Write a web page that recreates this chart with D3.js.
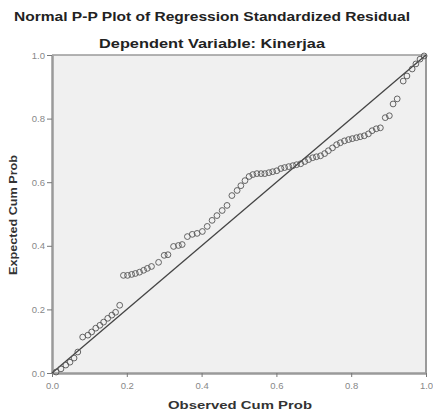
<!DOCTYPE html>
<html>
<head>
<meta charset="utf-8">
<script src="https://cdn.jsdelivr.net/npm/d3@7"></script>
<style>
  html, body { margin: 0; padding: 0; background: #fff; }
  svg { display: block; }
</style>
</head>
<body>
<svg id="chart" width="433" height="410"></svg>
<script>
// ---- data ----
const observedCumProb = [
  0.011, 0.024, 0.037, 0.048, 0.059, 0.069,
  0.082, 0.096, 0.106, 0.117, 0.128, 0.138, 0.149, 0.160, 0.170, 0.181,
  0.191, 0.202, 0.213, 0.223, 0.234, 0.245, 0.255, 0.266, 0.285,
  0.300, 0.310, 0.325, 0.338, 0.348, 0.362, 0.375, 0.388, 0.402,
  0.415, 0.428, 0.441, 0.455, 0.468, 0.481, 0.495, 0.505, 0.516, 0.527,
  0.537, 0.548, 0.559, 0.569, 0.580, 0.590, 0.601, 0.612, 0.622, 0.633,
  0.644, 0.654, 0.665, 0.676, 0.686, 0.697, 0.707, 0.718, 0.729, 0.739,
  0.750, 0.761, 0.771, 0.782, 0.793, 0.803, 0.814, 0.824, 0.835, 0.846,
  0.856, 0.867, 0.878, 0.891, 0.902, 0.912, 0.923, 0.939, 0.949, 0.963,
  0.973, 0.984, 0.995
];
const expectedCumProb = [
  0.003, 0.013, 0.025, 0.034, 0.047, 0.066,
  0.113, 0.119, 0.129, 0.141, 0.150, 0.160, 0.172, 0.182, 0.191, 0.213,
  0.307, 0.307, 0.310, 0.313, 0.317, 0.323, 0.329, 0.335, 0.348,
  0.370, 0.372, 0.398, 0.401, 0.404, 0.429, 0.436, 0.439, 0.445,
  0.461, 0.480, 0.495, 0.511, 0.527, 0.558, 0.574, 0.589, 0.605, 0.618,
  0.624, 0.627, 0.627, 0.627, 0.630, 0.633, 0.636, 0.643, 0.646, 0.649,
  0.652, 0.655, 0.658, 0.665, 0.671, 0.677, 0.680, 0.683, 0.690, 0.699,
  0.708, 0.718, 0.724, 0.730, 0.734, 0.737, 0.740, 0.743, 0.746, 0.752,
  0.762, 0.768, 0.771, 0.803, 0.809, 0.846, 0.862, 0.918, 0.934, 0.956,
  0.972, 0.987, 0.997
];
const tickValues = [0.0, 0.2, 0.4, 0.6, 0.8, 1.0];
const titleText = "Normal P-P Plot of Regression Standardized Residual";
const subtitleText = "Dependent Variable: Kinerjaa";
const xLabel = "Observed Cum Prob";
const yLabel = "Expected Cum Prob";

// ---- layout ----
const plot = { left: 52, right: 426, top: 55, bottom: 373 };
const svg = d3.select("#chart");
const FONT = "Liberation Sans, Arial, sans-serif";

const x = d3.scaleLinear().domain([0, 1]).range([plot.left, plot.right]);
const y = d3.scaleLinear().domain([0, 1]).range([plot.bottom, plot.top]);

// plot background
svg.append("rect")
  .attr("x", plot.left).attr("y", plot.top)
  .attr("width", plot.right - plot.left).attr("height", plot.bottom - plot.top)
  .attr("fill", "#f0f0f0");

// frame top & right
svg.append("line").attr("x1", plot.left).attr("x2", plot.right)
  .attr("y1", plot.top).attr("y2", plot.top)
  .attr("stroke", "#9a9a9a").attr("stroke-width", 1.5);
svg.append("line").attr("x1", plot.right).attr("x2", plot.right)
  .attr("y1", plot.top).attr("y2", plot.bottom)
  .attr("stroke", "#9a9a9a").attr("stroke-width", 2);

// axes
const fmt = d3.format(".1f");
const xAxis = svg.append("g")
  .attr("transform", `translate(0,${plot.bottom})`)
  .call(d3.axisBottom(x).tickValues(tickValues).tickFormat(fmt).tickSize(4).tickSizeOuter(0));
const yAxis = svg.append("g")
  .attr("transform", `translate(${plot.left},0)`)
  .call(d3.axisLeft(y).tickValues(tickValues).tickFormat(fmt).tickSize(5).tickSizeOuter(0));

[xAxis, yAxis].forEach(g => {
  g.select(".domain").attr("stroke", "#9a9a9a").attr("stroke-width", 2.5);
  g.selectAll(".tick line").attr("stroke", "#777").attr("stroke-width", 1);
  g.selectAll(".tick text")
    .attr("fill", "#888")
    .attr("font-family", FONT)
    .attr("font-size", 9.5);
});
xAxis.selectAll(".tick text").attr("dy", "0.9em").attr("y", 7);
yAxis.selectAll(".tick text").attr("x", -7);

// diagonal reference line
svg.append("line")
  .attr("x1", x(0)).attr("y1", y(0))
  .attr("x2", x(1)).attr("y2", y(1))
  .attr("stroke", "#444").attr("stroke-width", 1.3);

// points
const pts = observedCumProb.map((v, i) => ({ o: v, e: expectedCumProb[i] }));
svg.append("g").selectAll("circle")
  .data(pts).enter().append("circle")
  .attr("cx", d => x(d.o)).attr("cy", d => y(d.e))
  .attr("r", 2.9)
  .attr("fill", "none")
  .attr("stroke", "#555")
  .attr("stroke-width", 0.9);

// titles
function label(txt, xPos, yPos, size, len, color) {
  return svg.append("text")
    .attr("x", xPos).attr("y", yPos)
    .attr("text-anchor", "middle")
    .attr("font-family", FONT)
    .attr("font-weight", "bold").attr("font-size", size)
    .attr("fill", color)
    .attr("textLength", len).attr("lengthAdjust", "spacingAndGlyphs")
    .text(txt);
}
label(titleText, 212, 21, 12.5, 396, "#222");
label(subtitleText, 212, 48, 13, 226, "#222");
label(xLabel, 240, 409, 11.5, 144, "#333");

svg.append("text")
  .attr("transform", `translate(17,215) rotate(-90)`)
  .attr("text-anchor", "middle")
  .attr("font-family", FONT)
  .attr("font-weight", "bold").attr("font-size", 11)
  .attr("fill", "#333")
  .attr("textLength", 120).attr("lengthAdjust", "spacingAndGlyphs")
  .text(yLabel);
</script>
</body>
</html>
